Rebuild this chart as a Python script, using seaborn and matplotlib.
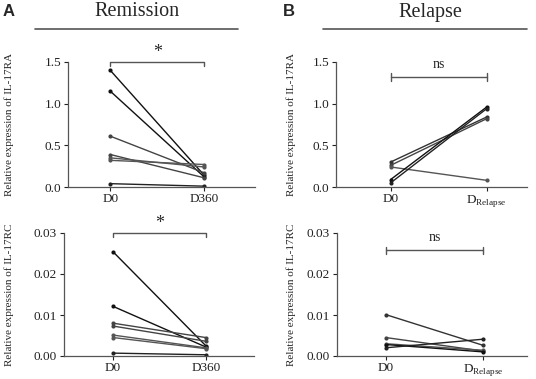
import matplotlib
matplotlib.use("Agg")
import matplotlib.pyplot as plt
import pandas as pd
import seaborn as sns

sns.set_style("ticks")
plt.rcParams['font.family'] = ['Liberation Serif', 'DejaVu Serif']

# Remission, IL-17RA
rem_ra_d0 = [1.40, 1.15, 0.61, 0.39, 0.35, 0.32, 0.04]
rem_ra_d360 = [0.14, 0.12, 0.17, 0.11, 0.24, 0.27, 0.01]
# Remission, IL-17RC
rem_rc_d0 = [0.0254, 0.0121, 0.0080, 0.0073, 0.0051, 0.0045, 0.0007]
rem_rc_d360 = [0.0025, 0.0022, 0.0045, 0.0036, 0.0020, 0.0018, 0.0003]
# Relapse, IL-17RA
rel_ra_d0 = [0.30, 0.26, 0.24, 0.09, 0.05]
rel_ra_drel = [0.84, 0.82, 0.08, 0.96, 0.94]
# Relapse, IL-17RC
rel_rc_d0 = [0.0101, 0.0045, 0.0030, 0.0028, 0.0020]
rel_rc_drel = [0.0026, 0.0012, 0.0014, 0.0010, 0.0041]

rem_colors = ['#111111', '#111111', '#444444', '#444444', '#555555', '#555555', '#222222']
rel_colors = ['#333333', '#444444', '#555555', '#111111', '#222222']

rem_ticks = ['D0', 'D360']
rel_ticks = ['D0', r'D$_{\mathregular{Relapse}}$']


def make_df(before, after, labels):
    rows = []
    for i, (a, b) in enumerate(zip(before, after)):
        rows.append({'patient': i, 'time': labels[0], 'value': a})
        rows.append({'patient': i, 'time': labels[1], 'value': b})
    return pd.DataFrame(rows)


fig = plt.figure(figsize=(5.36, 3.79), dpi=100)
W, H = 536, 379


def px_axes(x0, x1, ytop, ybot):
    return fig.add_axes([x0 / W, 1 - ybot / H, (x1 - x0) / W, (ybot - ytop) / H])


ax1 = px_axes(68, 255, 62, 187)
ax2 = px_axes(336, 527, 62, 187)
ax3 = px_axes(64, 254, 233, 356)
ax4 = px_axes(337, 527, 233, 356)

# axes, left px, right px, ylabel right edge px, ...
panels = [
    (ax1, 68, 255, 14, rem_ra_d0, rem_ra_d360, rem_ticks, rem_colors, (0, 1.5), [0, 0.5, 1.0, 1.5],
     'Relative expression of IL-17RA', (-0.45, 1.54), 'star', 1.5),
    (ax2, 336, 527, 296, rel_ra_d0, rel_ra_drel, rel_ticks, rel_colors, (0, 1.5), [0, 0.5, 1.0, 1.5],
     'Relative expression of IL-17RA', (-0.57, 1.42), 'ns', 1.32),
    (ax3, 64, 254, 14, rem_rc_d0, rem_rc_d360, rem_ticks, rem_colors, (0, 0.03), [0, 0.01, 0.02, 0.03],
     'Relative expression of IL-17RC', (-0.53, 1.52), 'star', 0.03),
    (ax4, 337, 527, 296, rel_rc_d0, rel_rc_drel, rel_ticks, rel_colors, (0, 0.03), [0, 0.01, 0.02, 0.03],
     'Relative expression of IL-17RC', (-0.5, 1.45), 'ns', 0.0258),
]

for ax, x0, x1, ylx, before, after, labels, cols, ylim, yticks, ylab, xlim, sig, sy in panels:
    df = make_df(before, after, labels)
    sns.lineplot(data=df, x='time', y='value', hue='patient', palette=cols,
                 estimator=None, marker='o', markersize=3, markeredgewidth=0,
                 linewidth=1, legend=False, ax=ax)
    ax.set_ylim(*ylim)
    ax.set_yticks(yticks)
    if ylim[1] < 1:
        ax.set_yticklabels([f'{v:.2f}' for v in yticks])
    else:
        ax.set_yticklabels([f'{v:.1f}' for v in yticks])
    ax.set_xlim(*xlim)
    ax.set_xticks([0, 1])
    ax.set_xticklabels(labels)
    ax.set_xlabel('')
    ax.set_ylabel(ylab, fontsize=8)
    ax.yaxis.set_label_coords((ylx - x0) / (x1 - x0), 0.5)
    ax.tick_params(labelsize=9.5, length=3, width=0.8, colors='#222222', pad=2)
    ax.tick_params(axis='x', pad=1)
    sns.despine(ax=ax)
    for s in ['left', 'bottom']:
        ax.spines[s].set_color('#555555')
        ax.spines[s].set_linewidth(0.9)
    span = ylim[1] - ylim[0]
    if sig == 'star':
        ax.plot([0, 0, 1, 1], [sy - 0.03 * span, sy, sy, sy - 0.03 * span],
                color='#555555', lw=1, clip_on=False)
        ax.text(0.5, sy + 0.01 * span, '*', ha='center', va='bottom', fontsize=13)
    else:
        ax.plot([0, 1], [sy, sy], color='#555555', lw=1, clip_on=False)
        for xx in [0, 1]:
            ax.plot([xx, xx], [sy - 0.03 * span, sy + 0.03 * span],
                    color='#555555', lw=1, clip_on=False)
        ax.text(0.5, sy + 0.05 * span, 'ns', ha='center', va='bottom', fontsize=10)

# headers
fig.text(137 / W, 1 - 12 / H, 'Remission', ha='center', va='center', fontsize=14.5)
fig.text(430 / W, 1 - 12 / H, 'Relapse', ha='center', va='center', fontsize=14.5)
fig.add_artist(plt.Line2D([35 / W, 238 / W], [1 - 29 / H, 1 - 29 / H], color='#555555', lw=1.2))
fig.add_artist(plt.Line2D([323 / W, 527 / W], [1 - 29 / H, 1 - 29 / H], color='#555555', lw=1.2))
fig.text(3 / W, 1 - 12 / H, 'A', ha='left', va='center', fontsize=12, fontweight='bold',
         family=['Liberation Sans', 'DejaVu Sans'])
fig.text(283 / W, 1 - 12 / H, 'B', ha='left', va='center', fontsize=12, fontweight='bold',
         family=['Liberation Sans', 'DejaVu Sans'])

fig.savefig('out.png', dpi=100)
